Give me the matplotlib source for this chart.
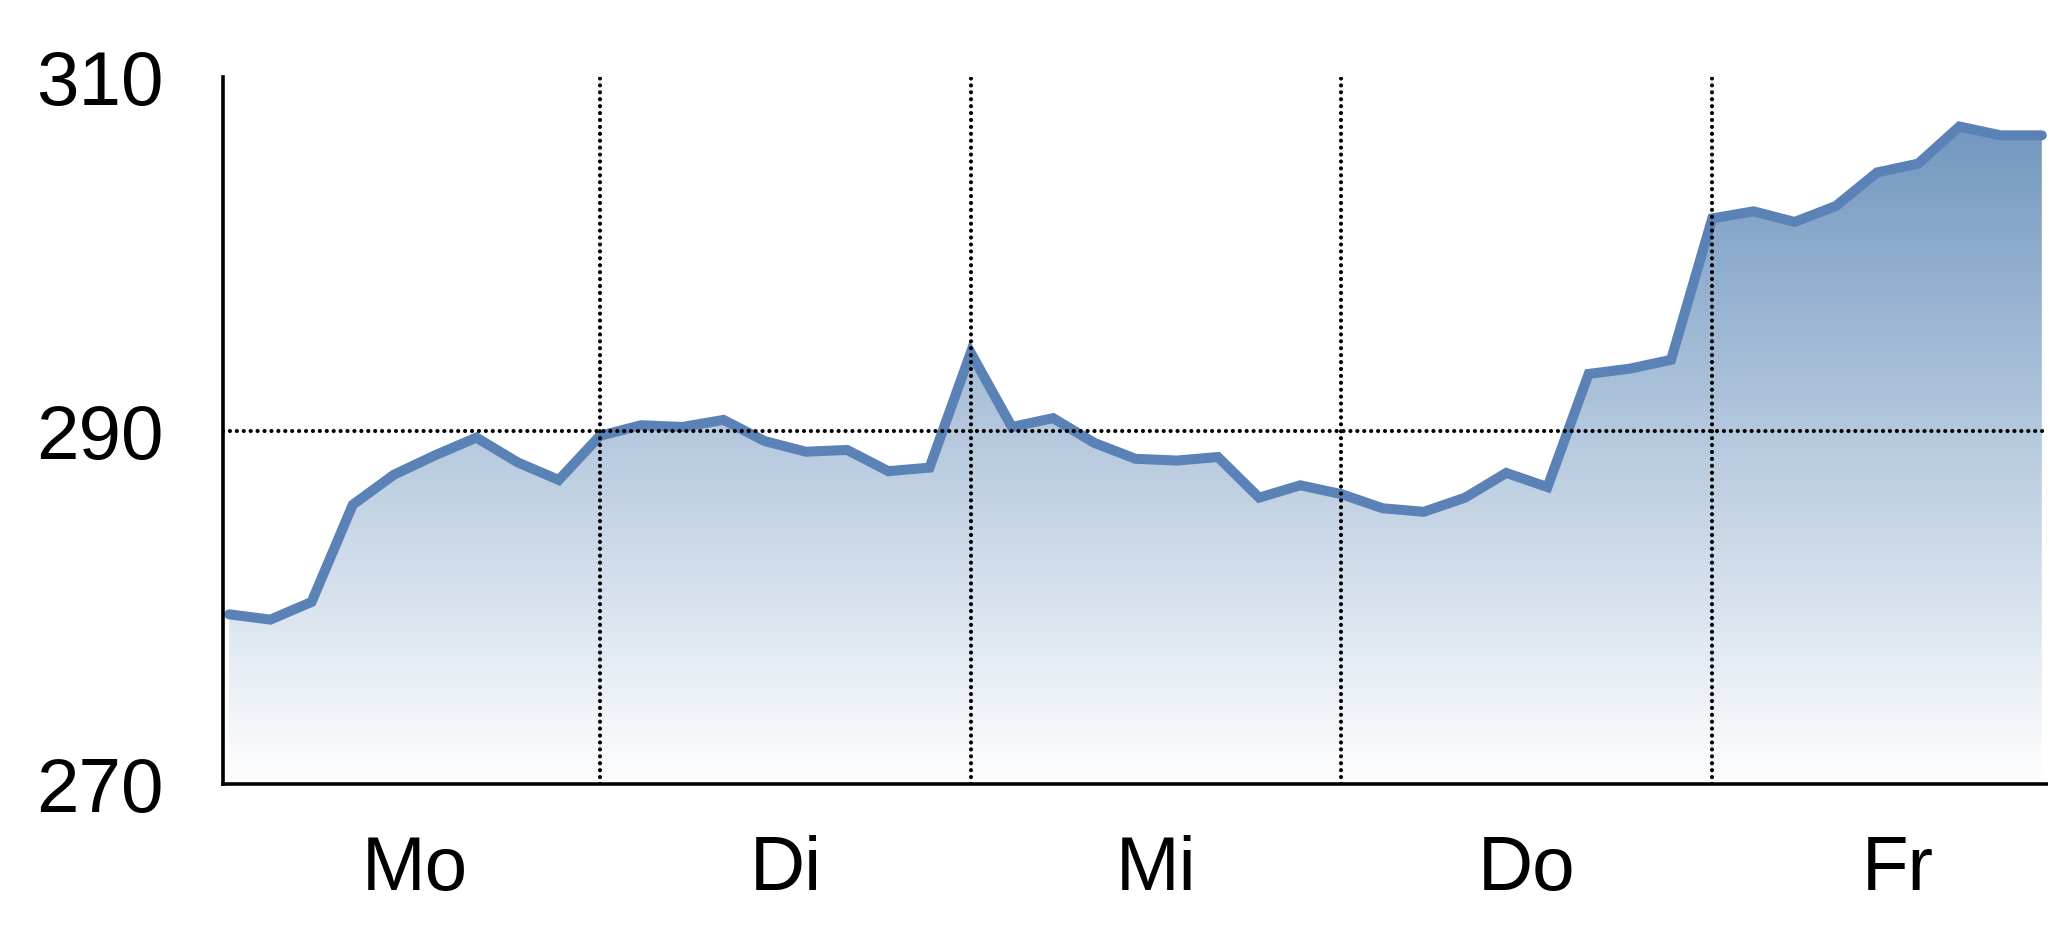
import matplotlib
matplotlib.use("Agg")
import matplotlib.pyplot as plt
import numpy as np
from matplotlib.colors import LinearSegmentedColormap

# Kursverlauf, 9 Werte pro Handelstag
werte = [
    279.6, 279.3, 280.3, 285.8, 287.5, 288.6, 289.6, 288.2, 287.2,   # Mo
    289.7, 290.3, 290.2, 290.6, 289.4, 288.8, 288.9, 287.7, 287.9,   # Di
    294.4, 290.2, 290.7, 289.3, 288.4, 288.3, 288.5, 286.2, 286.9,   # Mi
    286.4, 285.6, 285.4, 286.2, 287.6, 286.8, 293.2, 293.5, 294.0,   # Do
    302.0, 302.4, 301.8, 302.7, 304.6, 305.1, 307.2, 306.7, 306.7,   # Fr
]
tage = ["Mo", "Di", "Mi", "Do", "Fr"]
tag_pos = [4.5, 13.5, 22.5, 31.5, 40.5]
trenner = [9, 18, 27, 36]
y_ticks = [270, 290, 310]

plt.rcParams["font.family"] = ["Liberation Sans Narrow", "Liberation Sans", "DejaVu Sans"]

x = np.arange(len(werte))
y = np.array(werte)

fig = plt.figure(figsize=(20.48, 9.37), dpi=100)
ax = fig.add_axes([223 / 2048, 1 - 785 / 937, 1825 / 2048, (785 - 78) / 937])
ax.set_xlim(-0.15, 44.15)
ax.set_ylim(270, 310)

# Verlaufsfüllung unter der Linie
cmap = LinearSegmentedColormap.from_list("verlauf", ["#ffffff", "#6890bc"])
grad = np.linspace(0, 1, 256).reshape(-1, 1)
poly = ax.fill_between(x, y, 270, color="none", lw=0)
img = ax.imshow(grad, cmap=cmap, aspect="auto", origin="lower",
                extent=[-0.15, 44.15, 270, 310], zorder=1)
img.set_clip_path(poly.get_paths()[0], transform=ax.transData)

ax.plot(x, y, color="#5a82b6", lw=7.2, solid_capstyle="round",
        solid_joinstyle="miter", zorder=3)

# gepunktete Raster-Linien liegen über der Kurve
punkt = dict(color="black", lw=3.0, linestyle=(0, (0.01, 1.65)),
             dash_capstyle="round", zorder=3.5)
for t in trenner:
    ax.axvline(t, **punkt)
ax.axhline(290, **punkt)

for s in ["top", "right"]:
    ax.spines[s].set_visible(False)
for s in ["left", "bottom"]:
    ax.spines[s].set_linewidth(2.6)
    ax.spines[s].set_zorder(4)

ax.set_yticks(y_ticks)
ax.set_yticklabels([str(v) for v in y_ticks])
ax.set_xticks(tag_pos)
ax.set_xticklabels(tage)
ax.tick_params(axis="y", length=0, pad=43, labelsize=55)
ax.tick_params(axis="x", length=0, pad=36, labelsize=55)

fig.savefig("out.png", dpi=100)
